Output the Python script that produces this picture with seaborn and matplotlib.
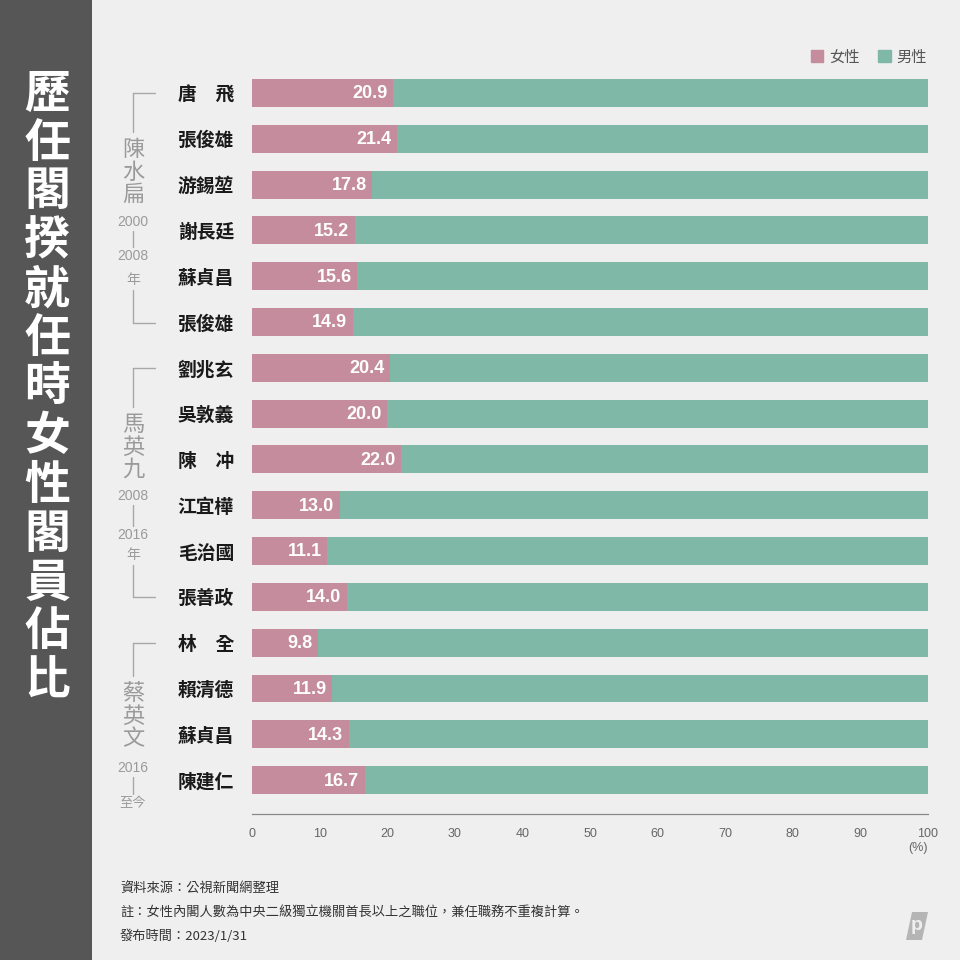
import matplotlib
matplotlib.use("Agg")
import matplotlib.pyplot as plt
import seaborn as sns
import pandas as pd
from matplotlib.patches import Rectangle, Polygon

# ---- data ----
names = ["唐　飛", "張俊雄", "游錫堃", "謝長廷", "蘇貞昌", "張俊雄",
         "劉兆玄", "吳敦義", "陳　冲", "江宜樺", "毛治國", "張善政",
         "林　全", "賴清德", "蘇貞昌", "陳建仁"]
female = [20.9, 21.4, 17.8, 15.2, 15.6, 14.9,
          20.4, 20.0, 22.0, 13.0, 11.1, 14.0,
          9.8, 11.9, 14.3, 16.7]
male = [round(100 - f, 1) for f in female]
xticks = [0, 10, 20, 30, 40, 50, 60, 70, 80, 90, 100]
title = "歷任閣揆就任時女性閣員佔比"
groups = [("陳\n水\n扁", "2000", "2008", "年"),
          ("馬\n英\n九", "2008", "2016", "年"),
          ("蔡\n英\n文", "2016", None, "至今")]
legend_labels = ["女性", "男性"]
footer = ["資料來源：公視新聞網整理",
          "註：女性內閣人數為中央二級獨立機關首長以上之職位，兼任職務不重複計算。",
          "發布時間：2023/1/31"]

PINK = "#c48c9d"
TEAL = "#80b8a8"
BG = "#efefef"
PANEL = "#565656"
GRAY = "#9a9a9a"

sns.set_theme(style="white")
plt.rcParams["font.family"] = ["Liberation Sans", "Noto Sans CJK TC", "DejaVu Sans"]

fig = plt.figure(figsize=(9.6, 9.6), dpi=100, facecolor=BG)

# overlay axes in pixel coordinates for decorations
ov = fig.add_axes([0, 0, 1, 1], zorder=0)
ov.set_xlim(0, 960)
ov.set_ylim(960, 0)
ov.axis("off")
ov.add_patch(Rectangle((0, 0), 92, 960, color=PANEL, lw=0))

ov.text(47, 388, "\n".join(title), ha="center", va="center", color="white",
        fontsize=33, fontweight="bold", family=["Noto Sans CJK TC"],
        linespacing=1.08)

# main axes
ax = fig.add_axes([252 / 960, 1 - 814 / 960, 676 / 960, 744 / 960], zorder=1)
ax.set_facecolor("none")

keys = [str(i) for i in range(len(names))]
df = pd.DataFrame({"key": keys, "female": female, "male": male})
df["total"] = df["female"] + df["male"]

sns.barplot(data=df, x="total", y="key", order=keys, color=TEAL, width=0.61,
            saturation=1, ax=ax, orient="h")
sns.barplot(data=df, x="female", y="key", order=keys, color=PINK, width=0.61,
            saturation=1, ax=ax, orient="h")
for p in ax.patches:
    p.set_linewidth(0)

for i, v in enumerate(female):
    ax.text(v - 0.8, i + 0.02, f"{v:.1f}", ha="right", va="center", color="white",
            fontsize=13, fontweight="bold", family=["Liberation Sans"])

ax.set_xlim(0, 100)
ax.set_ylim(15.74, -0.5)
ax.set_xlabel("")
ax.set_ylabel("")
ax.set_yticks(range(len(names)))
ax.set_yticklabels(names, family=["Noto Sans CJK TC"], fontweight="bold",
                   fontsize=13.5, color="#1a1a1a")
ax.tick_params(axis="y", length=0, pad=13)
ax.set_xticks(xticks)
ax.set_xticklabels([str(t) for t in xticks], fontsize=9, color="#666666",
                   family=["Liberation Sans Narrow", "Liberation Sans"])
ax.tick_params(axis="x", length=4, width=0.8, color="#888888", pad=6, direction="out")
for s in ["top", "right", "left"]:
    ax.spines[s].set_visible(False)
ax.spines["bottom"].set_color("#888888")
ax.spines["bottom"].set_linewidth(0.9)
ax.text(100, -0.038, "(%)", transform=ax.get_xaxis_transform(), ha="right", va="top",
        fontsize=9, color="#666666", family=["Liberation Sans Narrow", "Liberation Sans"])

# group brackets
gx = 133
lc = dict(color="#a8a8a8", lw=1)
specs = [
    # top, name_y, y1, y2, yr, bottom
    (93, 172, 222, 256, 280, 323),
    (368, 447, 496, 535, 555, 597),
    (643, 716, 768, None, 804, None),
]
for (lab, y1t, y2t, yrt), (top, ny, y1, y2, yr, bot) in zip(groups, specs):
    ov.plot([gx, gx + 22], [top, top], **lc)
    ov.plot([gx, gx], [top, ny - 40], **lc)
    ov.text(gx, ny, lab, ha="center", va="center", color=GRAY, fontsize=16,
            family=["Noto Sans CJK TC"], linespacing=0.98)
    ov.text(gx, y1, y1t, ha="center", va="center", color=GRAY, fontsize=10)
    if y2 is not None:
        ov.plot([gx, gx], [y1 + 9, y2 - 9], **lc)
        ov.text(gx, y2, y2t, ha="center", va="center", color=GRAY, fontsize=10)
        ov.text(gx, yr, yrt, ha="center", va="center", color=GRAY, fontsize=10,
                family=["Noto Sans CJK TC"])
    else:
        ov.plot([gx, gx], [y1 + 9, yr - 10], **lc)
        ov.text(gx, yr, yrt, ha="center", va="center", color=GRAY, fontsize=9.5,
                family=["Noto Sans CJK TC"])
    if bot is not None:
        ov.plot([gx, gx], [yr + 10, bot], **lc)
        ov.plot([gx, gx + 22], [bot, bot], **lc)

# legend
handles = [Rectangle((0, 0), 1, 1, color=PINK), Rectangle((0, 0), 1, 1, color=TEAL)]
leg = fig.legend(handles, legend_labels, loc="center right",
                 bbox_to_anchor=(941 / 960, 1 - 57 / 960), ncol=2, frameon=False,
                 handlelength=0.8, handleheight=0.8, handletextpad=0.4,
                 columnspacing=1.2, prop={"family": "Noto Sans CJK TC", "size": 11})
for t in leg.get_texts():
    t.set_color("#555555")

# footer
for k, line in enumerate(footer):
    ov.text(120, 888 + 24 * k, line, ha="left", va="center", color="#333333",
            fontsize=9.5, family=["Noto Sans CJK TC"])

# small logo mark
ov.add_patch(Polygon([(912, 912), (928, 912), (922, 940), (906, 940)],
                     closed=True, color="#b5b5b5", lw=0))
ov.text(917, 925, "p", ha="center", va="center", color=BG, fontsize=14,
        fontweight="bold")

fig.savefig("out.png", dpi=100, facecolor=BG)
